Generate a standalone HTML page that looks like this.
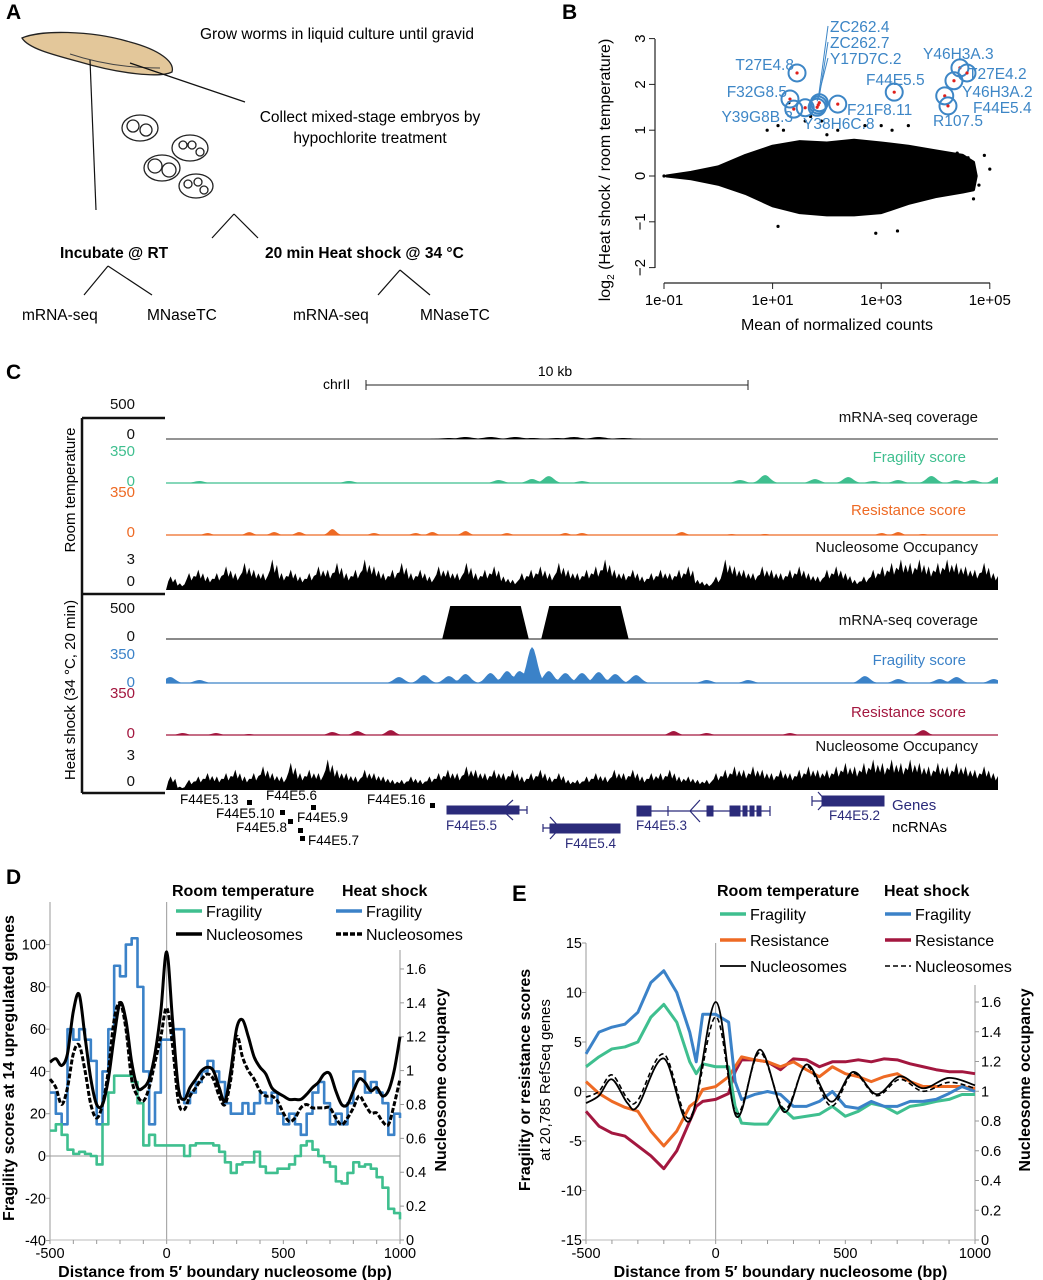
<!DOCTYPE html>
<html><head><meta charset="utf-8"><style>
html,body{margin:0;padding:0;background:#fff}
svg{display:block;font-family:"Liberation Sans",Arial,sans-serif}
.b{font-weight:bold}
</style></head><body>
<svg id="fig" width="1043" height="1280" viewBox="0 0 1043 1280" xmlns="http://www.w3.org/2000/svg">
<g>
<text x="6" y="19" font-size="21" class="b">A</text>
<path d="M22,38 C40,30 90,30 130,42 C160,50 175,62 172,72 C160,78 120,74 80,62 C50,54 28,48 22,38 Z" fill="#e3c79a" stroke="#222" stroke-width="1.3"/>
<path d="M70,54 C100,64 130,68 160,68" fill="none" stroke="#444" stroke-width="1"/>
<line x1="90" y1="60" x2="96" y2="210" stroke="#111" stroke-width="1.2"/>
<line x1="130" y1="63" x2="245" y2="102" stroke="#111" stroke-width="1.2"/>
<g fill="#fff" stroke="#222" stroke-width="1.3">
<ellipse cx="140" cy="128" rx="18" ry="13"/><ellipse cx="190" cy="148" rx="18" ry="13"/>
<ellipse cx="162" cy="168" rx="18" ry="13"/><ellipse cx="196" cy="186" rx="17" ry="12"/>
<circle cx="133" cy="126" r="6"/><circle cx="146" cy="130" r="6"/><circle cx="155" cy="166" r="7"/><circle cx="169" cy="170" r="7"/>
<circle cx="183" cy="145" r="4"/><circle cx="192" cy="145" r="4"/><circle cx="200" cy="152" r="4"/><circle cx="188" cy="184" r="4"/><circle cx="198" cy="182" r="4"/><circle cx="204" cy="190" r="4"/>
</g>
<text x="200" y="39" font-size="15.5">Grow worms in liquid culture until gravid</text>
<text x="370" y="122" font-size="15.5" text-anchor="middle">Collect mixed-stage embryos by</text>
<text x="370" y="143" font-size="15.5" text-anchor="middle">hypochlorite treatment</text>
<path d="M234,214 L212,238 M234,214 L258,238" stroke="#111" stroke-width="1.2" fill="none"/>
<text x="60" y="258" font-size="15.5" class="b">Incubate @ RT</text>
<text x="265" y="258" font-size="15.5" class="b">20 min Heat shock @ 34 °C</text>
<path d="M108,266 L84,295 M108,266 L152,295 M400,270 L378,295 M400,270 L430,295" stroke="#111" stroke-width="1.2" fill="none"/>
<text x="22" y="320" font-size="15.5">mRNA-seq</text>
<text x="147" y="320" font-size="15.5">MNaseTC</text>
<text x="293" y="320" font-size="15.5">mRNA-seq</text>
<text x="420" y="320" font-size="15.5">MNaseTC</text>
</g>
<g id="pb">
<text x="562" y="19" font-size="21" class="b">B</text>
<line x1="655" y1="39" x2="655" y2="268" stroke="#222" stroke-width="1.2"/>
<line x1="664" y1="283" x2="990" y2="283" stroke="#222" stroke-width="1.2"/>
<text transform="translate(610,170) rotate(-90)" font-size="16" text-anchor="middle">log<tspan font-size="10" dy="4">2</tspan><tspan dy="-4"> (Heat shock / room temperature)</tspan></text>
<text x="837" y="330" font-size="16" text-anchor="middle">Mean of normalized counts</text>
</g>
<g id="pc">
<text x="6" y="379" font-size="21" class="b">C</text>
<text x="323" y="389" font-size="14">chrII</text>
<text x="555" y="376" font-size="14" text-anchor="middle">10 kb</text>
<path d="M366,385 L748,385 M366,380 V390 M748,380 V390" stroke="#222" stroke-width="1"/>
<path d="M82,418 H165 M82,418 V793 M82,594 H165 M82,793 H165" stroke="#111" stroke-width="2.5" fill="none"/>
<text transform="translate(75,490) rotate(-90)" font-size="15" text-anchor="middle">Room temperature</text>
<text transform="translate(75,690) rotate(-90)" font-size="15" text-anchor="middle">Heat shock (34 °C, 20 min)</text>
</g>
<g id="pd">
<text x="6" y="884" font-size="21" class="b">D</text>
</g>
<g id="pe">
<text x="512" y="901" font-size="22" class="b">E</text>
</g>
</svg>
<script>
const bGenes=["T27E4.8","F32G8.5","Y39G8B.3","Y38H6C.8","ZC262.4","ZC262.7","Y17D7C.2","F21F8.11","F44E5.5","Y46H3A.3","T27E4.2","Y46H3A.2","F44E5.4","R107.5"];
const bGeneLogMean=[1.45,1.32,1.39,1.6,1.84,1.86,1.82,2.2,3.24,4.45,4.58,4.34,4.17,4.23];
const bGeneLfc=[2.25,1.68,1.46,1.49,1.55,1.6,1.5,1.57,1.83,2.36,2.25,2.08,1.75,1.53];
const bCloudTopX=[-0.95,-0.5,0,0.5,1,1.5,2,2.5,3,3.5,4,4.5,4.7,4.75];
const bCloudTopY=[0,0.08,0.2,0.45,0.65,0.75,0.72,0.78,0.72,0.65,0.55,0.45,0.3,0];
const bCloudBotX=[4.7,4.5,4,3.5,3,2.5,2,1.5,1,0.5,0,-0.5];
const bCloudBotY=[-0.3,-0.35,-0.45,-0.6,-0.8,-0.85,-0.85,-0.8,-0.65,-0.38,-0.18,-0.06];
const bOutX=[-1,0.9,1.1,1.2,1.6,1.7,1.9,2,2.2,2.7,3,3.2,3.5,4.4,4.6,4.8,5,4.9,1.1,2.9,3.3,4.7,1.3];
const bOutY=[0,1.0,1.1,1.0,1.2,1.3,1.2,0.9,1.0,1.1,1.1,1.0,1.1,0.5,0.4,-0.2,0.15,0.45,-1.1,-1.25,-1.2,-0.5,1.6];
const bXTicks=["1e-01","1e+01","1e+03","1e+05"], bXTickVals=[-1,1,3,5];
const bYTicks=[-2,-1,0,1,2,3];
const NS="http://www.w3.org/2000/svg";
function mk(parent,tag,attrs,txt){const e=document.createElementNS(NS,tag);for(const k in attrs)e.setAttribute(k,attrs[k]);if(txt!==undefined)e.textContent=txt;parent.appendChild(e);return e;}
const bx=v=>664+(v+1)*54.3, by=v=>176-v*45.8;
const pb=document.getElementById('pb');
let pts=[];bCloudTopX.forEach((x,i)=>pts.push(bx(x)+','+by(bCloudTopY[i])));bCloudBotX.forEach((x,i)=>pts.push(bx(x)+','+by(bCloudBotY[i])));
let cl=mk(pb,'polygon',{points:pts.join(' '),fill:'#000',stroke:'#000','stroke-width':3,'stroke-linejoin':'round'});


bOutX.forEach((x,i)=>{const c=mk(pb,'circle',{cx:bx(x),cy:by(bOutY[i]),r:1.6,fill:'#000'});

});
bYTicks.forEach(v=>{mk(pb,'line',{x1:649,x2:655,y1:by(v),y2:by(v),stroke:'#222'});
const t=mk(pb,'text',{transform:`translate(645,${by(v)}) rotate(-90)`,'font-size':15,'text-anchor':'middle'},v<0?'−'+(-v):v);

});
bXTickVals.forEach((v,i)=>{mk(pb,'line',{x1:bx(v),x2:bx(v),y1:283,y2:289,stroke:'#222'});
const t=mk(pb,'text',{x:bx(v),y:305,'font-size':15,'text-anchor':'middle'},bXTicks[i]);

});
const labelPos=[[794,70],[787,97],[793,122],[803,129],[830,32],[830,48],[830,64],[847,115],[866,85],[923,59],[968,79],[962,97],[973,113],[933,126]];
const anchors=['end','end','end','start','start','start','start','start','start','start','start','start','start','start'];
bGenes.forEach((g,i)=>{const cx=bx(bGeneLogMean[i]),cy=by(bGeneLfc[i]);
const c=mk(pb,'circle',{cx,cy,r:8.5,fill:'none',stroke:'#3d86c6','stroke-width':2});


mk(pb,'circle',{cx,cy,r:1.6,fill:'#e0201b'});
if(i>=4&&i<=6)mk(pb,'line',{x1:cx,y1:cy-6,x2:828,y2:26+(i-4)*16,stroke:'#3d86c6','stroke-width':1});
const t=mk(pb,'text',{x:labelPos[i][0],y:labelPos[i][1],'font-size':15.5,fill:'#3d86c6','text-anchor':anchors[i]},g);

});

const mrnaRTpos=[0.34,0.36,0.39,0.42,0.44,0.47,0.49,0.52,0.55], mrnaRTh=[1,2,2,2,1,1,2,2,1];
const mrnaHSstart=[0.332,0.451], mrnaHSend=[0.436,0.556], mrnaHSh=[33,33];
const fragRTpos=[0.04,0.22,0.4,0.44,0.46,0.5,0.69,0.72,0.78,0.82,0.85,0.88,0.92,0.95,0.97,1.0], fragRTh=[2,2,3,4,7,2,3,8,4,6,2,3,7,3,3,6];
const resRTpos=[0.05,0.1,0.13,0.16,0.2,0.25,0.3,0.32,0.36,0.41,0.48,0.5,0.62,0.68,0.72,0.86,0.88,0.91], resRTh=[2,3,3,3,6,2,2,3,4,2,2,2,3,1,1,2,3,1];
const fragHSpos=[0.005,0.04,0.28,0.31,0.34,0.36,0.39,0.41,0.425,0.44,0.46,0.48,0.5,0.52,0.54,0.565,0.65,0.7,0.84,0.88,0.93,0.95,0.995], fragHSh=[6,3,6,8,7,9,10,12,12,36,12,10,10,11,9,8,3,3,7,4,4,6,4];
const resHSpos=[0.02,0.06,0.1,0.2,0.23,0.27,0.61,0.65,0.75,0.91], resHSh=[2,2,1,3,4,5,4,2,2,5];
const nucRT=[4,2,5,6,4,5,7,5,8,6,5,9,5,6,4,5,7,6,8,5,6,9,7,5,6,8,5,6,4,7,6,5,8,5,6,7,4,3,5,6,7,5,8,6,5,6,7,9,6,5,6,4,5,6,5,6,7,3,2,4,9,7,6,5,7,6,5,6,7,5,4,6,7,5,3,4,6,7,8,9,8,9,7,8,9,8,7,6,8,5];
const nucHS=[4,1,3,4,5,4,5,6,4,5,7,5,4,8,5,6,5,9,6,5,4,6,5,4,3,3,4,3,4,5,6,5,7,6,5,6,5,6,4,5,6,4,5,3,3,4,5,4,6,5,6,4,5,5,6,4,4,3,3,5,6,7,6,7,6,5,6,5,6,7,6,6,7,8,7,8,9,8,9,8,9,8,7,8,7,8,7,6,7,5];
const pc=document.getElementById('pc');
const gx=f=>166+f*832;
function bumps(pos,h,base,color,name,w){let d=`M${gx(0)},${base}`;for(let k=0;k<=416;k++){const f=k/416;let y=0;pos.forEach((p,i)=>{const dd=(gx(f)-gx(p))/w;y=Math.max(y,h[i]*Math.exp(-dd*dd));});d+=` L${gx(f).toFixed(1)},${(base-y).toFixed(1)}`;}d+=` L${gx(1)},${base} Z`;
mk(pc,'line',{x1:gx(0),x2:gx(1),y1:base,y2:base,stroke:color==='#000'?'#555':color,'stroke-width':1.2});
const p=mk(pc,'path',{d,fill:color});

}
function nuc(vals,base,name){const n=vals.length,step=832/n;let d=`M${gx(0)},${base}`;vals.forEach((v,i)=>{const x=gx(0)+i*step;d+=` L${x+step*0.25},${base-v*2.2} L${x+step*0.5},${base-v*3.4} L${x+step*0.75},${base-v*1.9} L${x+step},${base-v*2.8}`;});d+=` L${gx(1)},${base} Z`;
const p=mk(pc,'path',{d,fill:'#000'});

}
bumps(mrnaRTpos,mrnaRTh,439,'#000','rt-mrna-track',10);
bumps(fragRTpos,fragRTh,483,'#3fbf8f','rt-fragility-track',7);
bumps(resRTpos,resRTh,535,'#ee6a24','rt-resistance-track',5);
nuc(nucRT,590,'rt-nucleosome-track');
mk(pc,'line',{x1:gx(0),x2:gx(1),y1:639,y2:639,stroke:'#444','stroke-width':1.2});
mrnaHSstart.forEach((s,i)=>{const x1=gx(s),x2=gx(mrnaHSend[i]),t=639-mrnaHSh[i];
const p=mk(pc,'path',{d:`M${x1},639 L${x1+8},${t} L${x2-8},${t} L${x2},639 Z`,fill:'#000'});

});
bumps(fragHSpos,fragHSh,683,'#3b82c8','hs-fragility-track',7);
bumps(resHSpos,resHSh,735,'#a3173f','hs-resistance-track',6);
nuc(nucHS,790,'hs-nucleosome-track');
const cLabels=[["mRNA-seq coverage",422,'#111'],["Fragility score",462,'#3fbf8f'],["Resistance score",515,'#ee6a24'],["Nucleosome Occupancy",552,'#111'],["mRNA-seq coverage",625,'#111'],["Fragility score",665,'#3b82c8'],["Resistance score",717,'#a3173f'],["Nucleosome Occupancy",751,'#111']];
cLabels.forEach((l,i)=>{const t=mk(pc,'text',{x:[0,3,4,7].includes(i)?978:966,y:l[1],'font-size':15,fill:l[2],'text-anchor':'end'},l[0]);

});
const cTicks=[["500",409,'#111'],["0",439,'#111'],["350",456,'#3fbf8f'],["0",486,'#3fbf8f'],["350",497,'#ee6a24'],["0",537,'#ee6a24'],["3",564,'#111'],["0",586,'#111'],["500",613,'#111'],["0",641,'#111'],["350",659,'#3b82c8'],["0",687,'#3b82c8'],["350",698,'#a3173f'],["0",738,'#a3173f'],["3",760,'#111'],["0",786,'#111']];
cTicks.forEach(l=>{const t=mk(pc,'text',{x:135,y:l[1],'font-size':15,fill:l[2],'text-anchor':'end'},l[0]);

});
const gl=[["F44E5.13",180,804],["F44E5.6",266,800],["F44E5.10",216,818],["F44E5.9",297,822],["F44E5.8",236,832],["F44E5.7",308,845],["F44E5.16",367,804]];
gl.forEach(g=>{const t=mk(pc,'text',{x:g[1],y:g[2],'font-size':13.5},g[0]);

});
[[247,800],[311,805],[280,810],[288,819],[298,828],[300,836],[430,803]].forEach(p=>mk(pc,'rect',{x:p[0],y:p[1],width:5,height:5,fill:'#000'}));
const navy='#2b2b7a';
const gs=mk(pc,'g',{fill:navy,stroke:navy});


mk(gs,'rect',{x:447,y:806,width:72,height:8});mk(gs,'path',{d:'M519,810 H527 M527,806 V814 M513,800 L502,810 L513,820',fill:'none','stroke-width':1.2});
mk(gs,'rect',{x:550,y:824,width:70,height:9});mk(gs,'path',{d:'M543,828 H550 M543,824 V832 M550,817 L560,828 L550,839',fill:'none','stroke-width':1.2});
mk(gs,'rect',{x:637,y:806,width:14,height:10});mk(gs,'rect',{x:707,y:806,width:6,height:10});mk(gs,'rect',{x:730,y:806,width:10,height:10});mk(gs,'rect',{x:743,y:806,width:4,height:10});mk(gs,'rect',{x:750,y:806,width:4,height:10});mk(gs,'rect',{x:757,y:806,width:4,height:10});
mk(gs,'path',{d:'M651,811 H770 M668,806 V816 M770,806 V816 M700,800 L690,811 L700,822',fill:'none','stroke-width':1.2});
mk(gs,'rect',{x:822,y:796,width:62,height:10});mk(gs,'path',{d:'M812,801 H822 M812,796 V806 M818,792 L826,801 L818,810',fill:'none','stroke-width':1.2});
[["F44E5.5",446,830],["F44E5.4",565,848],["F44E5.3",636,830],["F44E5.2",829,820]].forEach(g=>{const t=mk(pc,'text',{x:g[1],y:g[2],'font-size':13.5,fill:navy},g[0]);

});
let t1=mk(pc,'text',{x:892,y:810,'font-size':15,fill:navy},'Genes');


let t2=mk(pc,'text',{x:892,y:832,'font-size':15},'ncRNAs');



const dX=[-500,-475,-450,-425,-400,-375,-350,-325,-300,-275,-250,-225,-200,-175,-150,-125,-100,-75,-50,-25,0,25,50,75,100,125,150,175,200,225,250,275,300,325,350,375,400,425,450,475,500,525,550,575,600,625,650,675,700,725,750,775,800,825,850,875,900,925,950,975,1000];
const dFragHS=[30,20,15,60,55,60,55,45,15,40,60,90,85,100,103,80,40,15,30,55,55,60,60,25,30,35,40,45,40,35,25,20,20,25,20,25,30,25,30,20,15,20,15,10,20,30,35,25,15,20,15,25,40,40,30,35,30,25,10,20,18];
const dFragRT=[12,15,10,3,1,2,1,0,-4,15,30,38,38,38,35,25,5,10,5,5,5,5,5,0,5,6,6,6,5,2,-3,-8,-4,-3,-3,2,-5,-8,-8,-6,-6,-4,0,5,7,3,0,-3,-5,-12,-13,-8,-3,-5,-4,-6,-10,-15,-25,-27,-30];
const dNucRT=[1.05,1.07,1.03,1.1,1.35,1.45,1.2,0.95,0.8,0.8,0.95,1.2,1.4,1.3,1.05,0.9,0.9,0.95,1.1,1.35,1.7,1.3,0.9,0.83,0.9,0.95,1.0,1.02,1.0,0.9,0.82,1.0,1.25,1.3,1.2,1.08,1.02,0.98,0.9,0.87,0.85,0.83,0.83,0.83,0.86,0.9,0.93,0.98,0.98,0.88,0.8,0.8,0.88,0.95,0.93,0.88,0.9,0.85,0.88,1.0,1.2];
const dNucHS=[0.95,0.9,0.8,0.9,1.1,1.15,1.0,0.8,0.72,0.8,1.0,1.3,1.4,1.25,0.95,0.85,0.82,0.9,1.05,1.2,1.37,1.15,0.82,0.77,0.85,0.9,0.95,0.98,0.95,0.85,0.8,0.95,1.2,1.08,1.0,0.95,0.88,0.85,0.85,0.82,0.75,0.7,0.72,0.78,0.8,0.78,0.78,0.78,0.78,0.72,0.68,0.72,0.78,0.85,0.8,0.75,0.75,0.7,0.68,0.8,0.95];
const dYTicks=[100,80,60,40,20,0,-20,-40], dY2Ticks=[0,0.2,0.4,0.6,0.8,1.0,1.2,1.4,1.6], xTicks=[-500,0,500,1000];

const eX=[-500,-450,-400,-350,-300,-250,-200,-150,-100,-75,-50,0,50,75,100,150,200,250,300,350,400,450,500,550,600,650,700,750,800,850,900,950,1000];
const eFragHS=[3.8,6,6.5,6.8,8,11,12.2,10,6,3,7.8,7.8,7,1,-0.8,-0.3,0,-0.3,-1.5,-1.5,-1,0,-1.5,-1.7,-1,-1.5,-1.5,-1,-1,-0.8,-0.2,0.5,0];
const eFragRT=[2.5,3.5,4.3,4.5,5,7.5,8.8,7,3,1.8,2.8,2.5,2.5,-1.5,-3.2,-3.3,-3.3,-1.5,-2.7,-2.5,-2.3,-1.5,-2.5,-2,-1.2,-1.5,-2.2,-1.5,-1.3,-1,-0.8,-0.3,-0.3];
const eResRT=[1,-0.2,-1,-1.6,-2,-4,-5.5,-4,-1.5,-1,0.2,0.5,1.5,2.5,3.5,3.2,3,2.5,3,2.2,1.5,2.5,1.8,1.5,1,1.5,1.8,1,0.5,0.5,0.5,0.5,0.3];
const eResHS=[-2,-3.5,-4.2,-4.5,-5.5,-6.5,-7.8,-6,-3,-1.5,-1,-0.8,-0.2,2,3.2,3.2,3,2.2,3.3,3.2,2.5,3,3,3.2,3,3.3,3.2,2.8,2.5,2.2,2,2,1.8];
const eNucX=[-500,-450,-400,-340,-300,-200,-100,0,80,170,265,350,445,530,620,710,800,900,1000];
const eNucRT=[0.92,0.97,1.08,0.92,0.9,1.22,0.8,1.6,0.83,1.28,0.86,1.18,0.93,1.13,0.98,1.1,1.02,1.09,1.04];
const eNucHS=[0.96,1.0,1.11,0.95,0.94,1.25,0.82,1.5,0.85,1.26,0.88,1.17,0.9,1.12,0.97,1.08,1.0,1.06,1.02];
const eYTicks=[15,10,5,0,-5,-10,-15], eY2Ticks=[0,0.2,0.4,0.6,0.8,1.0,1.2,1.4,1.6];

function linePath(xs,ys,fx,fy,step){let d='';xs.forEach((x,i)=>{const X=fx(x),Y=fy(ys[i]);if(i===0)d=`M${X},${Y}`;else if(step)d+=` H${X} V${Y}`;else d+=` L${X},${Y}`;});return d;}
function smoothPath(xs,ys,fx,fy){const P=xs.map((x,i)=>[fx(x),fy(ys[i])]);let d=`M${P[0][0]},${P[0][1]}`;for(let i=0;i<P.length-1;i++){const p0=P[Math.max(0,i-1)],p1=P[i],p2=P[i+1],p3=P[Math.min(P.length-1,i+2)];d+=` C${p1[0]+(p2[0]-p0[0])/6},${p1[1]+(p2[1]-p0[1])/6} ${p2[0]-(p3[0]-p1[0])/6},${p2[1]-(p3[1]-p1[1])/6} ${p2[0]},${p2[1]}`;}return d;}
function drawAxes(g,o){const {fx,fy,fy2,x0,x1,yt,yt2,ytop,y2top}=o;
mk(g,'line',{x1:x0,x2:x0,y1:ytop,y2:1240,stroke:'#999'});
mk(g,'line',{x1:x1,x2:x1,y1:y2top,y2:1240,stroke:'#999'});
mk(g,'line',{x1:x0,x2:x1,y1:fy(0),y2:fy(0),stroke:'#999'});
mk(g,'line',{x1:fx(0),x2:fx(0),y1:ytop,y2:1240,stroke:'#999'});
mk(g,'line',{x1:x0,x2:x1,y1:1240,y2:1240,stroke:'#bbb'});
for(let v=-500;v<=1000;v+=100)mk(g,'line',{x1:fx(v),x2:fx(v),y1:1240,y2:1244,stroke:'#999'});
yt.forEach(v=>{mk(g,'line',{x1:x0-4,x2:x0,y1:fy(v),y2:fy(v),stroke:'#999'});
const t=mk(g,'text',{x:x0-4,y:fy(v)+5,'font-size':14.5,'text-anchor':'end'},v);

});
yt2.forEach(v=>{mk(g,'line',{x1:x1,x2:x1+4,y1:fy2(v),y2:fy2(v),stroke:'#999'});
const t=mk(g,'text',{x:x1+6,y:fy2(v)+5,'font-size':14.5},Number.isInteger(v)?v:v.toFixed(1));

});
xTicks.forEach(v=>{const t=mk(g,'text',{x:fx(v),y:1258,'font-size':14.5,'text-anchor':'middle'},v);

});
const t=mk(g,'text',{x:(x0+x1)/2,y:1277,'font-size':16,'font-weight':'bold','text-anchor':'middle'},'Distance from 5′ boundary nucleosome (bp)');

}
function series(g,d,color,w,name,dash){const p=mk(g,'path',{d,fill:'none',stroke:color,'stroke-width':w,'stroke-linejoin':'round'});if(dash)p.setAttribute('stroke-dasharray',dash);

}
function legend(g,x,y,color,label,dash,w){const l=mk(g,'line',{x1:x,x2:x+26,y1:y,y2:y,stroke:color,'stroke-width':w||3.5});if(dash)l.setAttribute('stroke-dasharray',dash);
const t=mk(g,'text',{x:x+30,y:y+6,'font-size':16},label);

}

const pd=document.getElementById('pd');
const dfx=v=>50+(v+500)*350/1500, dfy=v=>1156-v*2.114, dfy2=v=>1240-v*169.4;
drawAxes(pd,{fx:dfx,fy:dfy,fy2:dfy2,x0:50,x1:400,yt:dYTicks,yt2:dY2Ticks,ytop:902,y2top:950});
series(pd,linePath(dX,dFragHS,dfx,dfy,true),'#3b82c8',2.6,'d-heat-shock-fragility');
series(pd,linePath(dX,dFragRT,dfx,dfy,true),'#3fbf8f',2.6,'d-room-temp-fragility');
series(pd,smoothPath(dX,dNucHS,dfx,dfy2),'#000',3,'d-heat-shock-nucleosomes','5,2');
series(pd,smoothPath(dX,dNucRT,dfx,dfy2),'#000',3,'d-room-temp-nucleosomes');
[["Room temperature",172],["Heat shock",342]].forEach(h=>{const t=mk(pd,'text',{x:h[1],y:896,'font-size':16,'font-weight':'bold'},h[0]);

});
legend(pd,176,911,'#3fbf8f','Fragility');legend(pd,176,934,'#000','Nucleosomes');
legend(pd,336,911,'#3b82c8','Fragility');legend(pd,336,934,'#000','Nucleosomes','5,2');
let dyt=mk(pd,'text',{transform:'translate(14,1068) rotate(-90)','font-size':16,'font-weight':'bold','text-anchor':'middle'},'Fragility scores at 14 upregulated genes');


let dyt2=mk(pd,'text',{transform:'translate(446,1080) rotate(-90)','font-size':16,'font-weight':'bold','text-anchor':'middle'},'Nucleosome occupancy');



const pe=document.getElementById('pe');
const efx=v=>586+(v+500)*389/1500, efy=v=>1240-(v+15)*9.9, efy2=v=>1240-v*148.75;
drawAxes(pe,{fx:efx,fy:efy,fy2:efy2,x0:586,x1:975,yt:eYTicks,yt2:eY2Ticks,ytop:943,y2top:985});
series(pe,linePath(eX,eResHS,efx,efy),'#a3173f',3,'e-heat-shock-resistance');
series(pe,linePath(eX,eResRT,efx,efy),'#ee6a24',3,'e-room-temp-resistance');
series(pe,linePath(eX,eFragRT,efx,efy),'#3fbf8f',3,'e-room-temp-fragility');
series(pe,linePath(eX,eFragHS,efx,efy),'#3b82c8',3,'e-heat-shock-fragility');
series(pe,smoothPath(eNucX,eNucHS,efx,efy2),'#000',1.6,'e-heat-shock-nucleosomes','5,3');
series(pe,smoothPath(eNucX,eNucRT,efx,efy2),'#000',1.8,'e-room-temp-nucleosomes');
[["Room temperature",717],["Heat shock",884]].forEach(h=>{const t=mk(pe,'text',{x:h[1],y:896,'font-size':16,'font-weight':'bold'},h[0]);

});
legend(pe,720,914,'#3fbf8f','Fragility');legend(pe,720,940,'#ee6a24','Resistance');legend(pe,720,966,'#000','Nucleosomes',null,1.8);
legend(pe,885,914,'#3b82c8','Fragility');legend(pe,885,940,'#a3173f','Resistance');legend(pe,885,966,'#000','Nucleosomes','5,3',1.6);
let eyt=mk(pe,'text',{transform:'translate(530,1080) rotate(-90)','font-size':16,'font-weight':'bold','text-anchor':'middle'},'Fragility or resistance scores');


let eyt3=mk(pe,'text',{transform:'translate(550,1080) rotate(-90)','font-size':15,'text-anchor':'middle'},'at 20,785 RefSeq genes');


let eyt2=mk(pe,'text',{transform:'translate(1030,1080) rotate(-90)','font-size':16,'font-weight':'bold','text-anchor':'middle'},'Nucleosome occupancy');


</script>
</body></html>
